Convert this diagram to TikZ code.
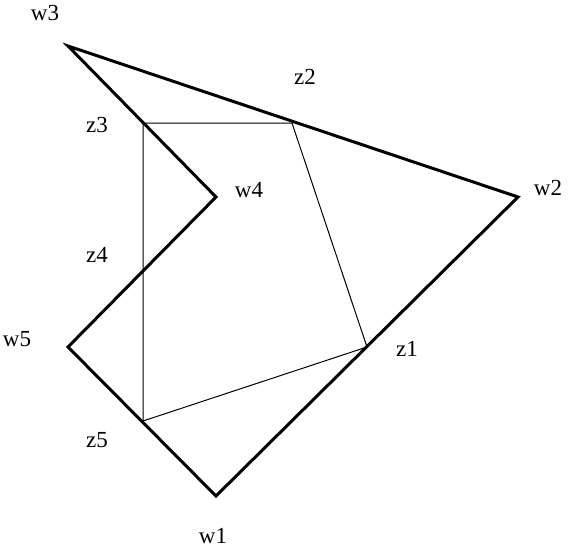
\documentclass[tikz,border=0pt]{standalone}
\usepackage{fontspec}
\setmainfont{Liberation Serif}
\usepackage{tikz}

\begin{document}
\begin{tikzpicture}[x=1pt, y=-1pt, outer/.style = {line width=3pt, line join=miter}, inner/.style = {line width=1pt}, lbl/.style = {anchor=base, inner sep=0pt, font=\fontsize{23}{27}\selectfont}]
		\useasboundingbox (0,0) rectangle (571,546);
		\coordinate (w1) at (216, 496);
		\coordinate (w2) at (518, 197);
		\coordinate (w3) at (68, 46);
		\coordinate (w4) at (216, 197);
		\coordinate (w5) at (68, 347);
		\coordinate (z1) at (367, 347);
		\coordinate (z2) at (292, 123);
		\coordinate (z3) at (143, 123);
		\coordinate (z4) at (143, 272);
		\coordinate (z5) at (143, 421);
	% outer polygon
		\draw [outer] (w3) -- (w2) -- (w1) -- (w5) -- (w4) -- cycle;
	% inner polygon
		\draw [inner] (z3) -- (z2) -- (z1) -- (z5) -- (z4) -- cycle;
	% labels
		\node [lbl] (l1) at (213, 543) {w1};
		\node [lbl] (l2) at (548, 195) {w2};
		\node [lbl] (l3) at (45, 20) {w3};
		\node [lbl] (l4) at (249, 197) {w4};
		\node [lbl] (l5) at (17, 346) {w5};
		\node [lbl] (m1) at (407, 356) {z1};
		\node [lbl] (m2) at (305, 84) {z2};
		\node [lbl] (m3) at (97, 132) {z3};
		\node [lbl] (m4) at (97, 262) {z4};
		\node [lbl] (m5) at (97, 447) {z5};
\end{tikzpicture}
\end{document}
